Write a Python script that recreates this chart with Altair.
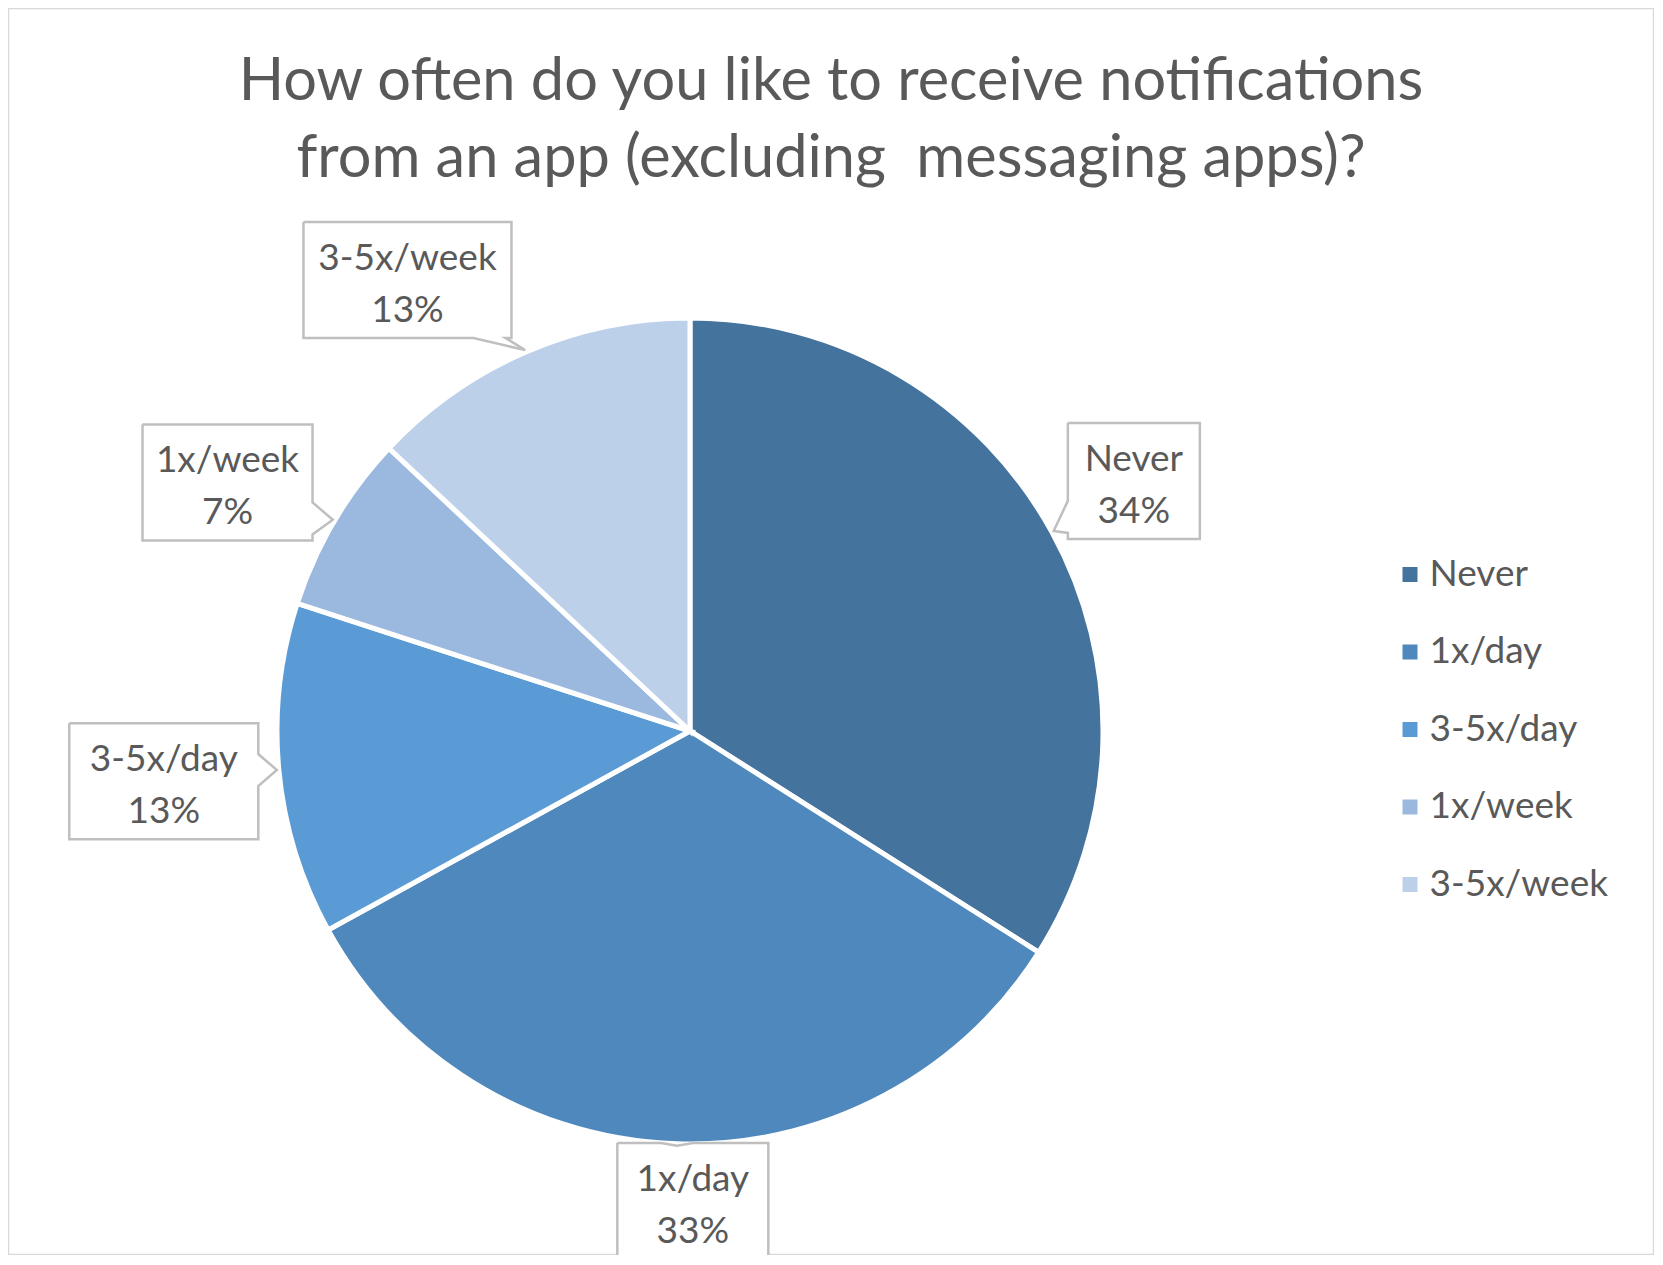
import math
import altair as alt
import pandas as pd

# ---- data ----
categories = ["Never", "1x/day", "3-5x/day", "1x/week", "3-5x/week"]
values = [34, 33, 13, 7, 13]
colors = ["#44739e", "#4f88bc", "#5b9bd5", "#9bb8df", "#bdd0ea"]
title_lines = ["How often do you like to receive notifications",
               "from an app (excluding\u00a0 messaging apps)?"]

# ---- layout (page pixels) ----
W, H = 1646, 1247
X0, Y0 = 8, 8
CX, CY, R = 690, 731, 411
GAP = 12
BOX_H = 116
LINE_H = 52
FONT = "Lato"
TXT = "#595959"
# small placement tweaks for the callouts (Excel "best fit")
nudge = {"Never": (-2, -5), "1x/day": (18, -13), "3-5x/day": (-6, 1),
         "1x/week": (-10, 19), "3-5x/week": (-77, 24)}

xs = alt.Scale(domain=[X0, X0 + W], nice=False, zero=False)
ys = alt.Scale(domain=[Y0, Y0 + H], nice=False, zero=False, reverse=True)

total = sum(values)
pie_df = pd.DataFrame({"category": categories, "value": values,
                       "idx": list(range(len(categories)))})

boxes, outline, texts = [], [], []
cum = 0.0
for cat, v in zip(categories, values):
    mid = (cum + v / 2) / total * 2 * math.pi
    cum += v
    ux, uy = math.sin(mid), -math.cos(mid)
    w = 37 + 19 * len(cat)
    h = BOX_H
    ext = abs(ux) * w / 2 + abs(uy) * h / 2
    d = R + GAP + ext
    bx = CX + ux * d + nudge[cat][0]
    by = CY + uy * d + nudge[cat][1]
    tx, ty = CX + ux * (R + 4), CY + uy * (R + 4)
    x0, x1, y0, y1 = bx - w / 2, bx + w / 2, by - h / 2, by + h / 2
    boxes.append({"label": cat, "x0": x0, "x1": x1, "y0": y0, "y1": y1})
    texts.append({"label": cat, "bx": bx, "by": by, "txt": f"{cat}\n{v}%"})
    dx, dy = tx - bx, ty - by
    if abs(dx) / (w / 2) > abs(dy) / (h / 2):
        side = "right" if dx > 0 else "left"
    else:
        side = "bottom" if dy > 0 else "top"
    def cl(p, lo, hi):
        return max(lo + 22, min(hi - 22, p))
    pts = [(x0, y0)]
    if side == "top":
        p = cl(tx, x0, x1); pts += [(p - 16, y0), (tx, ty), (p + 16, y0)]
    pts.append((x1, y0))
    if side == "right":
        p = cl(ty, y0, y1); pts += [(x1, p - 16), (tx, ty), (x1, p + 16)]
    pts.append((x1, y1))
    if side == "bottom":
        p = cl(tx, x0, x1); pts += [(p + 16, y1), (tx, ty), (p - 16, y1)]
    pts.append((x0, y1))
    if side == "left":
        p = cl(ty, y0, y1); pts += [(x0, p + 16), (tx, ty), (x0, p - 16)]
    pts.append((x0, y0))
    for k, (px, py) in enumerate(pts):
        outline.append({"label": cat, "k": k, "px": px, "py": py})

box_df = pd.DataFrame(boxes)
out_df = pd.DataFrame(outline)
txt_df = pd.DataFrame(texts)

pie = alt.Chart(pie_df).mark_arc(radius=413, stroke="white", strokeWidth=5).encode(
    theta=alt.Theta("value:Q", stack=True),
    order=alt.Order("idx:Q"),
    color=alt.Color("category:N",
                    scale=alt.Scale(domain=categories, range=colors),
                    sort=categories,
                    legend=alt.Legend(title=None, orient="none",
                                      legendX=1399 - X0 - 7.5, legendY=548,
                                      symbolType="square", symbolSize=225,
                                      symbolStrokeWidth=0, symbolOpacity=1,
                                      labelFont=FONT, labelFontSize=37,
                                      labelColor=TXT, labelLimit=400,
                                      labelOffset=1, rowPadding=39.5, padding=0)),
    x=alt.XDatum(datum=CX, type="quantitative", scale=xs, axis=None),
    y=alt.YDatum(datum=CY, type="quantitative", scale=ys, axis=None),
)

rects = alt.Chart(box_df).mark_rect(fill="white", strokeWidth=0).encode(
    x=alt.X("x0:Q", scale=xs, axis=None), x2="x1:Q",
    y=alt.Y("y0:Q", scale=ys, axis=None), y2="y1:Q",
)

lines = alt.Chart(out_df).mark_line(color="#bfbfbf", strokeWidth=2.5,
                                    strokeJoin="miter").encode(
    x=alt.X("px:Q", scale=xs, axis=None),
    y=alt.Y("py:Q", scale=ys, axis=None),
    detail="label:N",
    order=alt.Order("k:Q"),
)

labels = alt.Chart(txt_df).mark_text(font=FONT, fontSize=37, color=TXT,
                                     lineBreak="\n", lineHeight=LINE_H,
                                     dy=-LINE_H / 2 + 5,
                                     align="center", baseline="middle").encode(
    x=alt.X("bx:Q", scale=xs, axis=None),
    y=alt.Y("by:Q", scale=ys, axis=None),
    text="txt:N",
)

title_df = pd.DataFrame({"t": ["\n".join(title_lines)]})
title = alt.Chart(title_df).mark_text(font=FONT, fontSize=59.5, color=TXT,
                                      lineBreak="\n", lineHeight=77, dy=-36.5,
                                      align="center", baseline="middle").encode(
    x=alt.XDatum(datum=831, type="quantitative", scale=xs, axis=None),
    y=alt.YDatum(datum=118, type="quantitative", scale=ys, axis=None),
    text="t:N",
)

chart = alt.layer(pie, rects, lines, labels, title).properties(
    width=W, height=H, padding=0, autosize="none", background="white"
).configure_view(stroke="#d9d9d9", strokeWidth=2.5)

chart.save("out.html", embed_options={"renderer": "svg", "actions": False})
